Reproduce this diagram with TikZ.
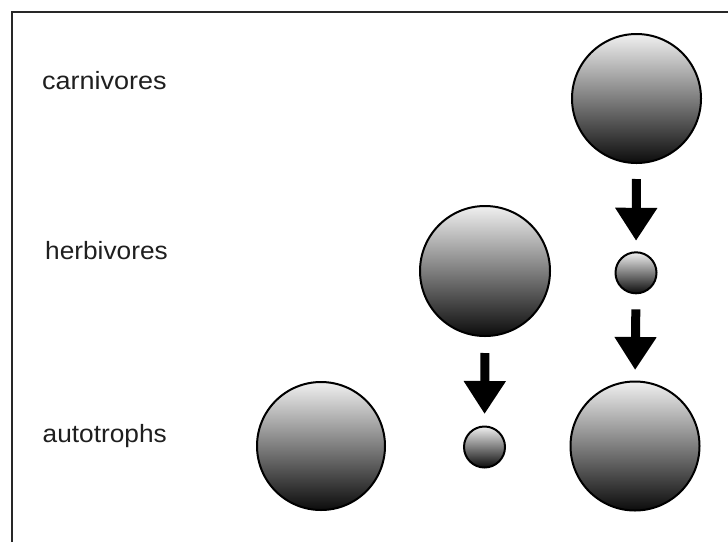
\documentclass[tikz,border=0pt]{standalone}
\usepackage{fontspec}
\setmainfont{Liberation Sans}
\usetikzlibrary{arrows.meta}
\definecolor{lighttop}{RGB}{240,240,240}
\definecolor{darkbot}{RGB}{12,12,12}
\definecolor{framecol}{RGB}{40,40,40}
\tikzset{
  ball/.style={circle, draw=black, line width=2pt, inner sep=0pt,
    top color=lighttop, bottom color=darkbot, minimum size=#1},
  lbl/.style={anchor=base west, inner sep=0pt, text=black!88,
    font=\fontsize{25}{25}\selectfont},
  flow/.style={line width=9pt, -{Triangle[width=40pt,length=33pt]}}
}
\begin{document}
\begin{tikzpicture}[x=1pt,y=1pt]
\useasboundingbox (0,0) rectangle (728,-542);
\draw[framecol, line width=2pt] (12,-542) -- (12,-12) -- (728,-12);

\node[lbl] (carn) at (42,-89) {\scalebox{1.08}[1]{carnivores}};
\node[lbl] (herb) at (45,-259) {\scalebox{1.05}[1]{herbivores}};
\node[lbl] (auto) at (42.5,-442) {\scalebox{1.05}[1]{autotrophs}};

\node[ball=129pt] (c1) at (636.5,-98.5) {};
\node[ball=41pt] (c2) at (636,-272.8) {};
\node[ball=129pt] (c3) at (635,-446) {};
\node[ball=130pt] (h1) at (485,-271) {};
\node[ball=41pt] (h2) at (484.5,-447) {};
\node[ball=128pt] (a1) at (321,-446) {};

\draw[flow, shorten <=15pt, shorten >=10.5pt] (c1.south) -- (c2.north);
\draw[flow, shorten <=15pt, shorten >=10.5pt] (c2.south) -- (c3.north);
\draw[flow, shorten <=16pt, shorten >=11.5pt] (h1.south) -- (h2.north);
\end{tikzpicture}
\end{document}
